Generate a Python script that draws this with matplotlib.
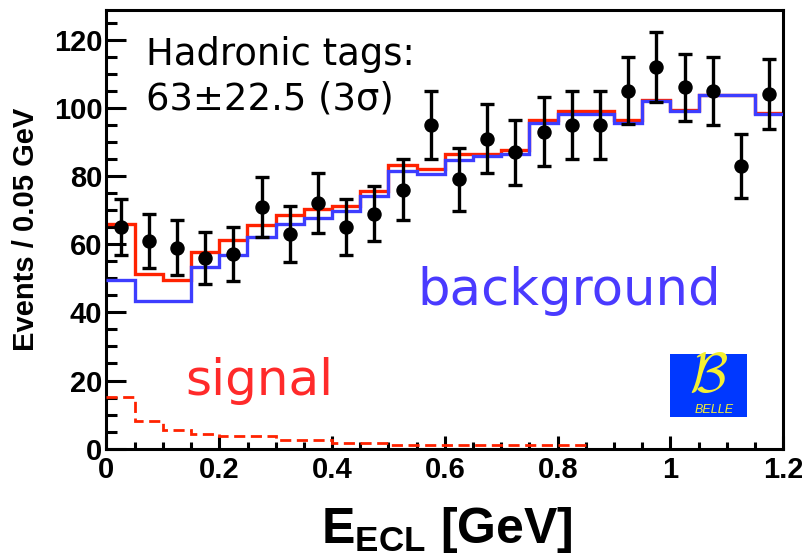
"""E_ECL distribution for hadronic tags: data, fit components and signal."""

import matplotlib

matplotlib.use("Agg")
import matplotlib.pyplot as plt
import numpy as np
from matplotlib.patches import Rectangle
from matplotlib.ticker import MultipleLocator

# 24 bins of 0.05 GeV between 0 and 1.2 GeV
bin_edges = np.linspace(0.0, 1.2, 25)

data_counts = [65, 61, 59, 56, 57, 71, 63, 72, 65, 69, 76, 95,
               79, 91, 87, 93, 95, 95, 105, 112, 106, 105, 83, 104]
data_errors = [8.3, 8.0, 8.0, 7.6, 7.9, 8.8, 8.2, 8.8, 8.3, 8.2, 8.9, 10.0,
               9.2, 10.0, 9.5, 10.1, 10.0, 10.0, 9.8, 10.2, 9.8, 10.0, 9.3, 10.2]

# total fit (signal + background)
total_fit = [66.0, 51.3, 49.6, 57.7, 61.3, 65.7, 68.7, 70.4, 71.3, 75.7, 83.1, 82.2,
             86.6, 86.6, 87.5, 96.5, 99.2, 99.2, 96.5, 102.3, 99.4, 103.9, 103.9, 98.4]
background_fit = [49.4, 43.4, 43.4, 53.2, 56.9, 62.1, 66.0, 67.7, 69.6, 74.0, 81.4, 80.6,
                  84.8, 85.8, 86.6, 95.7, 98.2, 98.2, 95.6, 102.1, 99.2, 103.7, 103.7, 98.2]
# signal shape is only drawn up to 0.85 GeV
signal_fit = [15.2, 8.0, 5.4, 4.4, 3.6, 3.6, 2.6, 2.6, 1.6, 1.6, 1.0, 1.0,
              1.0, 1.0, 1.0, 1.0, 1.0]

xticks = [0, 0.2, 0.4, 0.6, 0.8, 1.0, 1.2]
xtick_labels = ["0", "0.2", "0.4", "0.6", "0.8", "1", "1.2"]
yticks = [0, 20, 40, 60, 80, 100, 120]
ytick_labels = ["0", "20", "40", "60", "80", "100", "120"]

RED = "#ff2200"
BLUE = "#3d3dff"

W, H = 803, 556
plt.rcParams["font.family"] = ["Liberation Sans", "DejaVu Sans"]
plt.rcParams["mathtext.fontset"] = "custom"
plt.rcParams["mathtext.rm"] = "Liberation Sans"
plt.rcParams["mathtext.bf"] = "Liberation Sans:bold"

fig = plt.figure(figsize=(W / 100, H / 100), dpi=100)
left, right, top, bottom = 106.5, 783.3, 9.7, 448.7
ax = fig.add_axes([left / W, 1 - bottom / H, (right - left) / W, (bottom - top) / H])

centers = 0.5 * (bin_edges[:-1] + bin_edges[1:])

ax.stairs(total_fit, bin_edges, baseline=None, color=RED, linewidth=2.4, zorder=2)
ax.stairs(background_fit, bin_edges, baseline=None, color=BLUE, linewidth=2.4, zorder=3)
ax.stairs(signal_fit, bin_edges[: len(signal_fit) + 1], baseline=None, color=RED,
          linewidth=2.0, linestyle=(0, (4.0, 2.0)), zorder=3)
ax.errorbar(centers, data_counts, yerr=data_errors, fmt="o", color="black",
            markersize=9.4, elinewidth=2.4, capsize=4.7, capthick=2.4, zorder=4)

ax.set_xlim(0, 1.2)
ax.set_ylim(0, 128.8)

# ROOT-like axes: ticks inside, only on bottom/left
ax.set_xticks(xticks, xtick_labels)
ax.set_yticks(yticks, ytick_labels)
ax.xaxis.set_minor_locator(MultipleLocator(0.05))
ax.yaxis.set_minor_locator(MultipleLocator(5))
ax.tick_params(axis="both", which="both", direction="in", width=2.2,
               top=False, right=False, labelsize=21)
ax.tick_params(axis="x", which="major", length=9.4, pad=5)
ax.tick_params(axis="x", which="minor", length=4.8)
ax.tick_params(axis="y", which="major", length=14.4, pad=3)
ax.tick_params(axis="y", which="minor", length=7.7)
for lbl in ax.get_xticklabels() + ax.get_yticklabels():
    lbl.set_fontweight("bold")
for sp in ax.spines.values():
    sp.set_linewidth(2.2)

fig.text(26 / W, 1 - 229 / H, "Events / 0.05 GeV", rotation=90, ha="center",
         va="center", fontsize=21, fontweight="bold")
fig.text(446.5 / W, 1 - 543 / H, r"$\mathbf{E}_{\mathbf{ECL}}$ [GeV]", ha="center",
         va="baseline", fontsize=36, fontweight="bold")

ax.text(0.070, 112.6, "Hadronic tags:", fontsize=26.6, family="DejaVu Sans",
        va="baseline")
ax.text(0.070, 99.4, "63±22.5 (3σ)", fontsize=26.6, family="DejaVu Sans",
        va="baseline")
ax.text(0.5505, 42.2, "background", fontsize=37, family="DejaVu Sans",
        color="#4a3aff", va="baseline")
ax.text(0.139, 15.8, "signal", fontsize=36, family="DejaVu Sans",
        color="#ff2a2a", va="baseline")

# Belle logo
ax.add_patch(Rectangle((0.999, 9.3), 0.137, 18.5, facecolor="#0038ff",
                       edgecolor="none", zorder=5))
ax.text(1.068, 20.8, r"$\mathcal{B}$", math_fontfamily="cm", fontsize=40,
        color="#f5f032", ha="center", va="center", zorder=6)
ax.text(1.077, 10.5, "BELLE", fontsize=9, style="italic", color="#f5f032",
        ha="center", va="baseline", zorder=6)

fig.savefig("out.png", dpi=100)
plt.close(fig)
